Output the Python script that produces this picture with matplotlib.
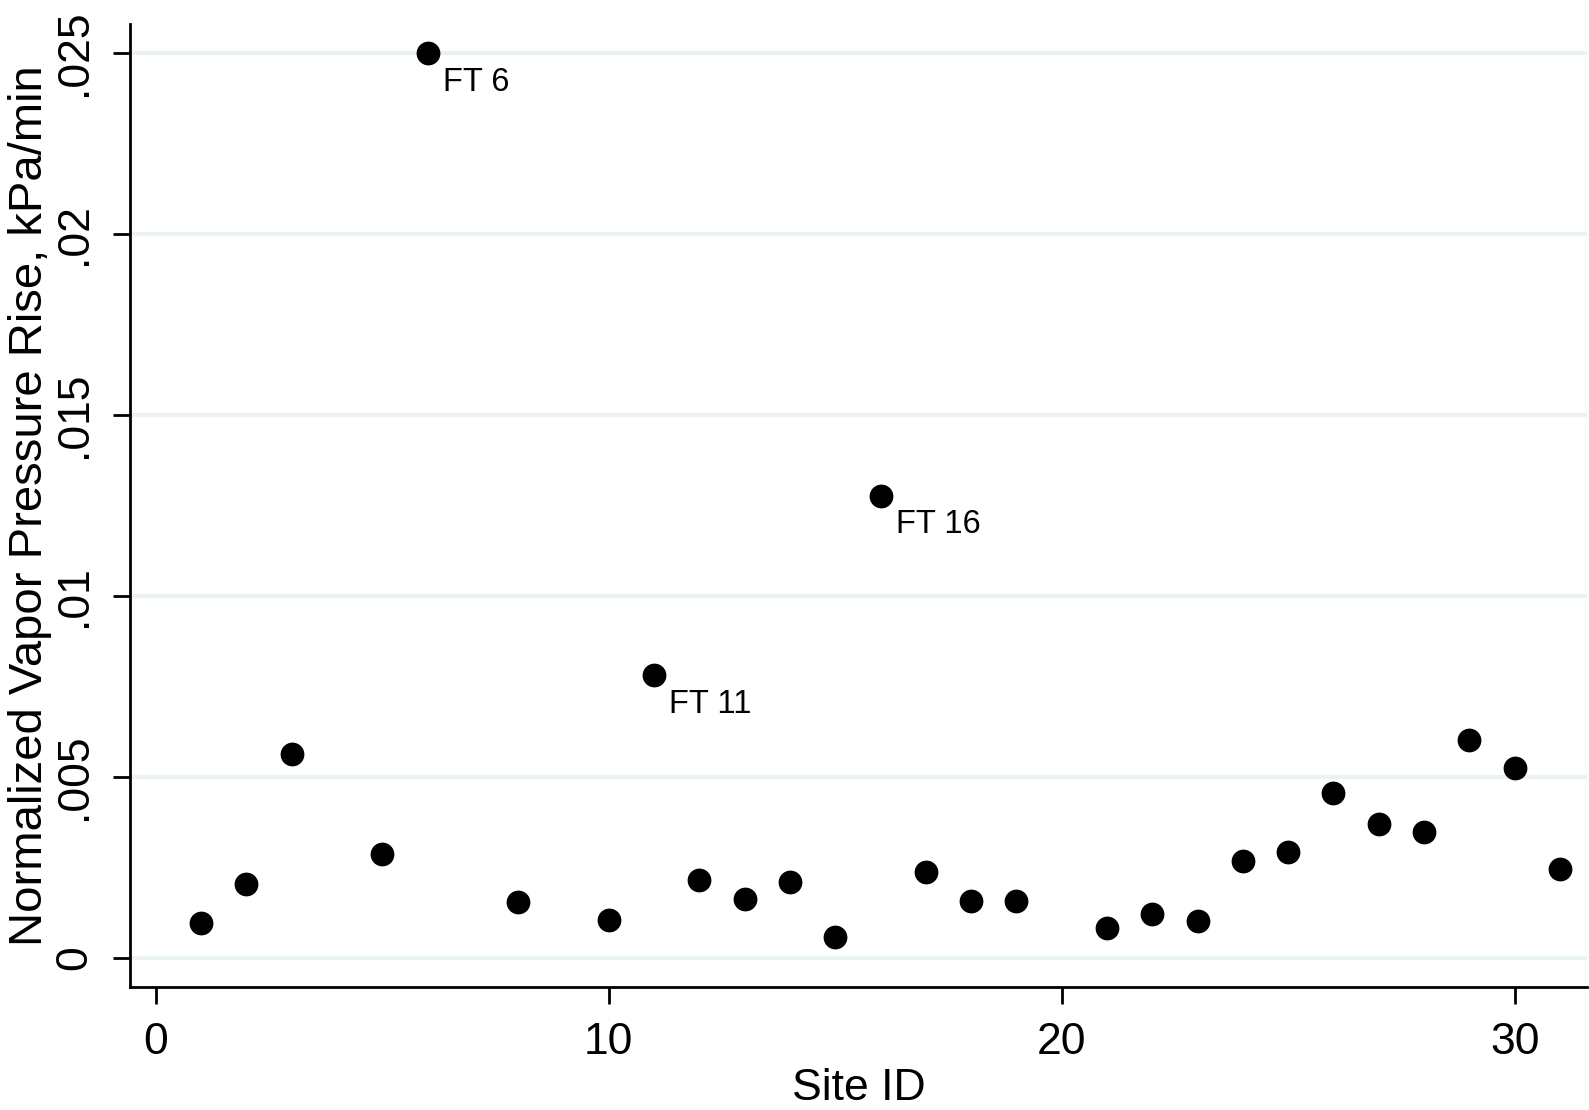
import matplotlib.pyplot as plt

plt.rcParams['font.family'] = ['Liberation Sans', 'DejaVu Sans']

# Site IDs and normalized vapor pressure rise (kPa/min)
site_id = [1, 2, 3, 5, 6, 8, 10, 11, 12, 13, 14, 15, 16, 17, 18, 19,
           21, 22, 23, 24, 25, 26, 27, 28, 29, 30, 31]
vp_rise = [0.00098, 0.00204, 0.00563, 0.00288, 0.0250, 0.00154, 0.00104,
           0.00781, 0.00216, 0.00162, 0.00210, 0.00059, 0.01277, 0.00238,
           0.00157, 0.00157, 0.00084, 0.00123, 0.00101, 0.00269, 0.00294,
           0.00456, 0.00370, 0.00347, 0.00602, 0.00524, 0.00246]

# labelled outliers
label_sites = [6, 11, 16]
label_text = ['FT 6', 'FT 11', 'FT 16']

x_ticks = [0, 10, 20, 30]
y_ticks = [0, 0.005, 0.01, 0.015, 0.02, 0.025]
y_ticklabels = ['0', '.005', '.01', '.015', '.02', '.025']

fig = plt.figure(figsize=(15.89, 11.10), dpi=100)
ax = fig.add_axes([0.0818, 0.1108, 0.9170, 0.8676])

ax.scatter(site_id, vp_rise, s=260, color='black', zorder=3)

for s, t in zip(label_sites, label_text):
    v = vp_rise[site_id.index(s)]
    ax.annotate(t, (s, v), xytext=(11, -21), textcoords='offset points',
                fontsize=23.5, va='center', ha='left')

ax.set_xlim(-0.57, 31.6)
ax.set_ylim(-0.0008, 0.0258)

ax.set_xticks(x_ticks)
ax.set_yticks(y_ticks)
ax.set_yticklabels(y_ticklabels, rotation=90, va='center')

ax.grid(axis='y', color='#eaf2f3', linewidth=3)
ax.set_axisbelow(True)

ax.spines['top'].set_visible(False)
ax.spines['right'].set_visible(False)
ax.spines['left'].set_linewidth(2)
ax.spines['bottom'].set_linewidth(2)

ax.tick_params(axis='both', length=12, width=2, labelsize=32, pad=13)

ax.set_xlabel('Site ID', fontsize=32, labelpad=4)
ax.set_ylabel('Normalized Vapor Pressure Rise, kPa/min', fontsize=34,
              va='center')
ax.yaxis.set_label_coords(-0.0685, 0.5)

fig.savefig('out.png', dpi=100)
